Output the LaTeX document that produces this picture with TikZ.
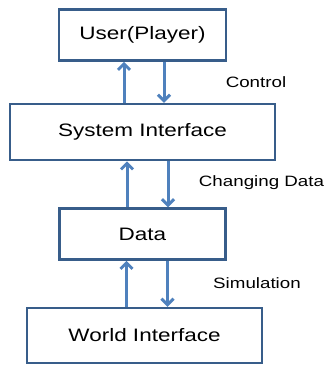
\documentclass[tikz,border=0pt]{standalone}
\usepackage{fontspec}
\setmainfont{Liberation Sans}[FakeStretch=1.25]
\usepackage{tikz}
\usetikzlibrary{positioning,arrows.meta}

\definecolor{boxblue}{RGB}{56,93,138}
\definecolor{linkblue}{RGB}{79,129,189}

\begin{document}
\begin{tikzpicture}[
			>={Straight Barb[length=6pt,width=12pt]},
			layer/.style={
				draw=boxblue,
				line width=2.5pt,
				fill=white,
				minimum height=51pt,
				align=center,
				font=\fontsize{18}{20}\selectfont
			},
			link/.style={
				->,
				draw=linkblue,
				line width=3pt
			},
			tag/.style={
				font=\fontsize{15}{17}\selectfont
			}
			]
			
			\useasboundingbox (0pt,0pt) rectangle (326pt,-365pt);
			
			%%%%%%%%%%%%%%%%%%%%%%%%%%%%%%%%%%%%%%%%%%%%%%%%%%%%%%%%%%%%
			% Layers
			%%%%%%%%%%%%%%%%%%%%%%%%%%%%%%%%%%%%%%%%%%%%%%%%%%%%%%%%%%%%
			
			\node (user) [layer, minimum width=167pt] at (142.5pt,-35pt)
			{User(Player)};
			
			\node (sys) [layer, minimum width=265pt, minimum height=56pt,
			below=41pt of user] {System Interface};
			
			\node (data) [layer, minimum width=166pt, below=46pt of sys]
			{Data};
			
			\node (world) [layer, minimum width=235pt, minimum height=55pt,
			below=46pt of data, xshift=2pt] {World Interface};
			
			%%%%%%%%%%%%%%%%%%%%%%%%%%%%%%%%%%%%%%%%%%%%%%%%%%%%%%%%%%%%
			% Labels
			%%%%%%%%%%%%%%%%%%%%%%%%%%%%%%%%%%%%%%%%%%%%%%%%%%%%%%%%%%%%
			
			\node (ctrl) [tag] at (256pt,-82pt) {Control};
			
			\node (chg) [tag] at (261.5pt,-183pt) {Changing Data};
			
			\node (sim) [tag] at (257pt,-283pt) {Simulation};
			
			%%%%%%%%%%%%%%%%%%%%%%%%%%%%%%%%%%%%%%%%%%%%%%%%%%%%%%%%%%%%
			% Connections
			%%%%%%%%%%%%%%%%%%%%%%%%%%%%%%%%%%%%%%%%%%%%%%%%%%%%%%%%%%%%
			
			% User <-> System
			
			\draw[link] ([xshift=-18.5pt]sys.north) -- ([xshift=-18.5pt]user.south);
			
			\draw[link] ([xshift=21.5pt]user.south) -- ([xshift=21.5pt]sys.north);
			
			% System <-> Data
			
			\draw[link] ([xshift=-15.5pt]data.north) -- ([xshift=-15.5pt]sys.south);
			
			\draw[link] ([xshift=25.5pt]sys.south) -- ([xshift=25.5pt]data.north);
			
			% Data <-> World
			
			\draw[link] ([xshift=-16pt]data.south |- world.north) -- ([xshift=-16pt]data.south);
			
			\draw[link] ([xshift=25pt]data.south) -- ([xshift=25pt]data.south |- world.north);
			
		\end{tikzpicture}
\end{document}
